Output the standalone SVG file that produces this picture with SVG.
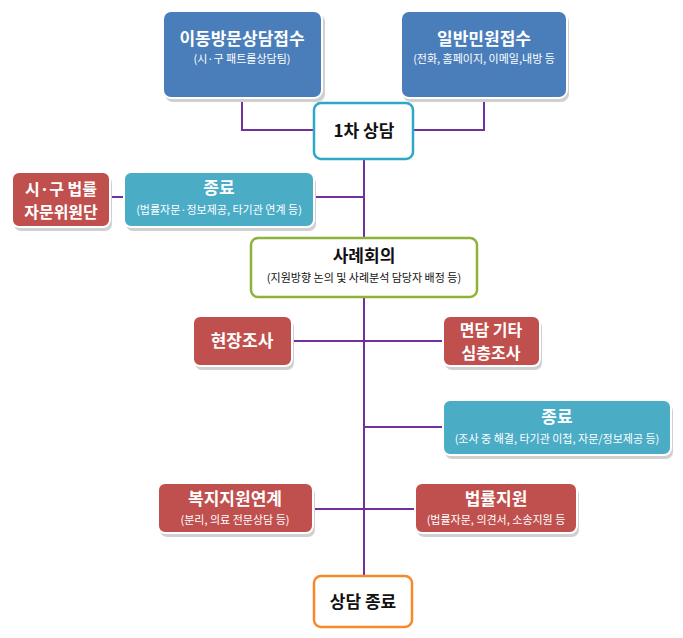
<svg xmlns="http://www.w3.org/2000/svg" width="683" height="638" viewBox="0 0 683 638">
<defs>
<style>
text{font-family:"Noto Sans CJK KR","Noto Sans",sans-serif;text-anchor:middle;font-weight:bold}
.t{fill:#fff;font-size:17px}
.t2{fill:#fff;font-size:16px}
.s{fill:#fff;font-size:11px;font-weight:normal}
.k{fill:#111;font-size:17px}
.blue{fill:#4a7ebb;stroke:#fff;stroke-width:2}
.red{fill:#c0504d;stroke:#fff;stroke-width:2}
.teal{fill:#4bacc6;stroke:#fff;stroke-width:2}
.w{fill:#fff;stroke-width:2.5}
.sh{fill:#d0d0d0}
.c{stroke:#7030a0;stroke-width:2;fill:none}
</style>
</defs>
<rect width="683" height="638" fill="#fff"/>
<g id="connectors">
<path class="c" d="M242 100V130H313M484 100V130H413M364 160V576M314 197H364M110 197H124M292 341H443M364 427H443M313 509H415"/>
</g>
<g id="n1"><rect class="sh" x="165" y="14" width="160" height="88" rx="8"/><rect class="blue" x="163" y="11" width="159" height="87" rx="8"/><text class="t" x="242" y="45">이동방문상담접수</text><text class="s" x="242" y="63">(시·구 패트롤상담팀)</text></g>
<g id="n2"><rect class="sh" x="403" y="14" width="166" height="88" rx="8"/><rect class="blue" x="401" y="11" width="166" height="87" rx="8"/><text class="t" x="484" y="45">일반민원접수</text><text class="s" x="484" y="63">(전화, 홈페이지, 이메일,내방 등</text></g>
<g id="n3"><rect class="w" x="314" y="103" width="99" height="56" rx="7" stroke="#2ea8c4"/><text class="k" x="364" y="137">1차 상담</text></g>
<g id="n4"><rect class="sh" x="14" y="176" width="98" height="55" rx="7"/><rect class="red" x="12" y="172" width="98" height="55" rx="7"/><text class="t2" x="61" y="195">시·구 법률</text><text class="t2" x="61" y="218">자문위원단</text></g>
<g id="n5"><rect class="sh" x="126" y="176" width="190" height="55" rx="7"/><rect class="teal" x="124" y="172" width="190" height="55" rx="7"/><text class="t" x="219" y="194">종료</text><text class="s" x="219" y="214">(법률자문·정보제공, 타기관 연계 등)</text></g>
<g id="n6"><rect class="w" x="251" y="238" width="226" height="59" rx="7" stroke="#8db33a"/><text class="k" x="364" y="262">사례회의</text><text x="364" y="282" style="font-size:11px;font-weight:normal;fill:#111">(지원방향 논의 및 사례분석 담당자 배정 등)</text></g>
<g id="n7"><rect class="sh" x="195" y="320" width="99" height="50" rx="7"/><rect class="red" x="193" y="316" width="99" height="50" rx="7"/><text class="t" x="242" y="347">현장조사</text></g>
<g id="n8"><rect class="sh" x="445" y="320" width="97" height="50" rx="7"/><rect class="red" x="443" y="316" width="97" height="50" rx="7"/><text class="t2" x="491" y="336">면담 기타</text><text class="t2" x="491" y="359">심층조사</text></g>
<g id="n9"><rect class="sh" x="445" y="404" width="228" height="55" rx="7"/><rect class="teal" x="443" y="400" width="228" height="55" rx="7"/><text class="t" x="557" y="423">종료</text><text class="s" x="557" y="443">(조사 중 해결, 타기관 이첩, 자문/정보제공 등)</text></g>
<g id="n10"><rect class="sh" x="160" y="487" width="155" height="50" rx="7"/><rect class="red" x="158" y="483" width="155" height="50" rx="7"/><text class="t" x="235" y="505">복지지원연계</text><text class="s" x="235" y="524">(분리, 의료 전문상담 등)</text></g>
<g id="n11"><rect class="sh" x="417" y="487" width="162" height="50" rx="7"/><rect class="red" x="415" y="483" width="162" height="50" rx="7"/><text class="t" x="496" y="505">법률지원</text><text class="s" x="496" y="524">(법률자문, 의견서, 소송지원 등</text></g>
<g id="n12"><rect class="w" x="314" y="576" width="98" height="51" rx="7" stroke="#f68a28"/><text class="k" x="363" y="608">상담 종료</text></g>
</svg>
